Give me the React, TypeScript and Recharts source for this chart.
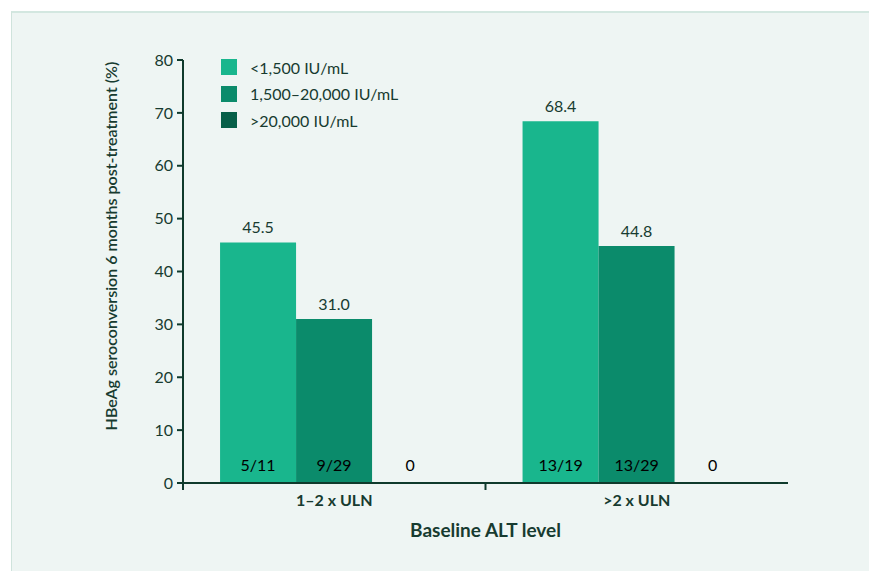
import React from "react";
import {
  BarChart,
  Bar,
  XAxis,
  YAxis,
  Legend,
  LabelList,
  Label,
} from "recharts";

const categories = ["1–2 x ULN", ">2 x ULN"];
const seriesNames = ["<1,500 IU/mL", "1,500–20,000 IU/mL", ">20,000 IU/mL"];
const lowValues = [45.5, 68.4];
const midValues = [31.0, 44.8];
const highValues = [0, 0];
const lowCounts = ["5/11", "13/19"];
const midCounts = ["9/29", "13/29"];
const highCounts = ["0", "0"];
const yTicks = [0, 10, 20, 30, 40, 50, 60, 70, 80];

const colors = ["#19b68d", "#0b8b6b", "#075f48"];
const ink = "#173b30";
const axisInk = "#0f3a2c";
const font = "Lato, 'Noto Sans', sans-serif";

const data = categories.map((name, i) => ({
  name,
  low: lowValues[i],
  mid: midValues[i],
  high: highValues[i],
  lowN: lowCounts[i],
  midN: midCounts[i],
  highN: highCounts[i],
}));

const keys = ["low", "mid", "high"];

function XTick(props: any) {
  const { x, y, payload } = props;
  const half = payload?.offset ?? 151;
  return (
    <g>
      <line x1={x - half} x2={x - half} y1={483} y2={490} stroke={axisInk} strokeWidth={2} />
      <text
        x={x}
        y={y + 15}
        textAnchor="middle"
        fill={ink}
        fontSize={16}
        fontWeight={700}
        fontFamily={font}
      >
        {payload.value}
      </text>
    </g>
  );
}

function CountLabel(props: any) {
  const { x, y, width, height, value, fill } = props;
  return (
    <text
      x={x + width / 2}
      y={y + height - 16}
      textAnchor="middle"
      dominantBaseline="middle"
      fill={fill}
      fontSize={16}
      fontFamily={font}
    >
      {value}
    </text>
  );
}

function LegendBox() {
  return (
    <div style={{ fontFamily: font, fontSize: 16, color: ink }}>
      {seriesNames.map((s, i) => (
        <div key={s} style={{ display: "flex", alignItems: "center", height: 26.5 }}>
          <span
            style={{
              display: "inline-block",
              width: 16,
              height: 16,
              background: colors[i],
              marginRight: 13,
            }}
          />
          <span>{s}</span>
        </div>
      ))}
    </div>
  );
}

function YTitle(props: any) {
  const vb = props.viewBox || { x: 123, y: 60, height: 423 };
  const cx = vb.x - 10;
  const cy = 246;
  return (
    <text
      x={cx}
      y={cy}
      transform={`rotate(-90, ${cx}, ${cy})`}
      textAnchor="middle"
      dominantBaseline="middle"
      fill={ink}
      fontSize={16}
      fontWeight={600}
      fontFamily={font}
    >
      HBeAg seroconversion 6 months post-treatment (%)
    </text>
  );
}

export default function App() {
  return (
    <div
      style={{
        position: "fixed",
        left: 0,
        top: 0,
        width: 869,
        height: 571,
        background: "#ffffff",
        overflow: "hidden",
      }}
    >
      <div
        style={{
          position: "absolute",
          left: 11,
          top: 11,
          right: 0,
          bottom: 0,
          background: "#eef5f3",
          borderLeft: "1px solid #cfe3dc",
          borderTop: "2px solid #d3e7e0",
        }}
      />
      <div style={{ position: "absolute", left: 0, top: 0 }}>
        <BarChart
          width={869}
          height={571}
          data={data}
          margin={{ top: 60, right: 81, bottom: 28, left: 123 }}
          barCategoryGap="12.25%"
          barGap={0}
        >
          <XAxis
            dataKey="name"
            height={60}
            axisLine={{ stroke: axisInk, strokeWidth: 2 }}
            tickLine={false}
            tick={<XTick />}
            interval={0}
          >
            <Label
              value="Baseline ALT level"
              position="insideBottom"
              offset={6}
              fill={ink}
              fontSize={19}
              fontWeight={700}
              fontFamily={font}
            />
          </XAxis>
          <YAxis
            width={60}
            domain={[0, 80]}
            ticks={yTicks}
            interval={0}
            axisLine={{ stroke: axisInk, strokeWidth: 2 }}
            tickLine={{ stroke: axisInk, strokeWidth: 2 }}
            tickSize={6}
            tickMargin={4}
            tick={{ fill: ink, fontSize: 16, fontFamily: font }}
          >
            <Label content={<YTitle />} />
          </YAxis>
          <Legend
            layout="vertical"
            align="center"
            verticalAlign="middle"
            wrapperStyle={{ left: 221, top: 54, width: 240 }}
            content={<LegendBox />}
          />
          {keys.map((k, i) => (
            <Bar
              key={k}
              dataKey={k}
              fill={colors[i]}
              minPointSize={k === "high" ? 1 : 0}
              isAnimationActive={false}
            >
              {k !== "high" && (
                <LabelList
                  dataKey={k}
                  position="top"
                  offset={9}
                  formatter={(v: any) => Number(v).toFixed(1)}
                  fill={ink}
                  fontSize={16}
                  fontFamily={font}
                />
              )}
              <LabelList
                dataKey={k + "N"}
                content={<CountLabel fill={k === "high" ? ink : "#ffffff"} />}
              />
            </Bar>
          ))}
        </BarChart>
      </div>
    </div>
  );
}
